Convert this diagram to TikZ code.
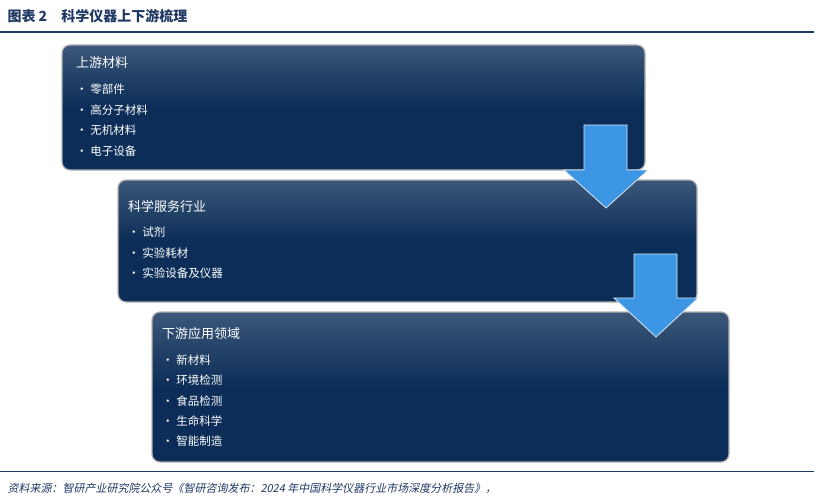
\documentclass[tikz,border=0pt]{standalone}
\usepackage{fontspec}
\usepackage{xcolor}
\newfontfamily\cjk{Noto Sans CJK SC}
\newfontfamily\cjkit[FakeSlant=0.2]{Noto Sans CJK SC}
\definecolor{navy}{HTML}{0B2D57}
\definecolor{titleblue}{HTML}{1F3864}
\definecolor{arrowblue}{HTML}{3C96E4}
\tikzset{
  stagebox/.style={draw=gray!60,line width=1.2pt,rounded corners=8pt,top color=navy!80!white,bottom color=navy,middle color=navy},
  headtext/.style={text=white,font=\cjk\fontsize{13}{15}\selectfont,anchor=west,inner sep=0pt},
  itemtext/.style={text=white,font=\cjk\fontsize{11.5}{13}\selectfont,anchor=west,inner sep=0pt},
  downarrow/.style={fill=arrowblue,draw=white!80!arrowblue,line width=0.8pt}
}
\begin{document}
\begin{tikzpicture}[x=1pt,y=-1pt]
\useasboundingbox (0,0) rectangle (814,503);
% title
\node[anchor=west,text=titleblue,font=\cjk\bfseries\fontsize{14}{16}\selectfont] (title) at (4,16) {图表 2\quad 科学仪器上下游梳理};
\draw[titleblue,line width=1.2pt] (0,32) -- (814,32);

% upstream
\draw[stagebox] (62,45) rectangle (645,170);
\node[headtext] (up) at (76,63) {上游材料};
\foreach \t [count=\i] in {零部件,高分子材料,无机材料,电子设备}
  \node[itemtext] (up\i) at (76,69+20.5*\i) {• \t};

% service
\draw[stagebox] (118,180) rectangle (697,302);
\node[headtext] (mid) at (128,207) {科学服务行业};
\foreach \t [count=\i] in {试剂,实验耗材,实验设备及仪器}
  \node[itemtext] (mid\i) at (128,212+20.5*\i) {• \t};

% downstream
\draw[stagebox] (152,312) rectangle (729,462);
\node[headtext] (down) at (162,334) {下游应用领域};
\foreach \t [count=\i] in {新材料,环境检测,食品检测,生命科学,智能制造}
  \node[itemtext] (down\i) at (162,340+20.3*\i) {• \t};

% arrows
\draw[downarrow] (584,125) -- (627,125) -- (627,170) -- (648,170) -- (606,208) -- (564,170) -- (584,170) -- cycle;
\draw[downarrow] (634,254) -- (677,254) -- (677,298) -- (698,298) -- (656,337) -- (614,298) -- (634,298) -- cycle;

% source
\draw[titleblue,line width=1pt] (0,471) -- (814,471);
\node[anchor=west,text=titleblue,font=\cjkit\fontsize{11}{13}\selectfont] (src) at (4,488) {资料来源：智研产业研究院公众号《智研咨询发布：2024 年中国科学仪器行业市场深度分析报告》，};
\end{tikzpicture}
\end{document}
